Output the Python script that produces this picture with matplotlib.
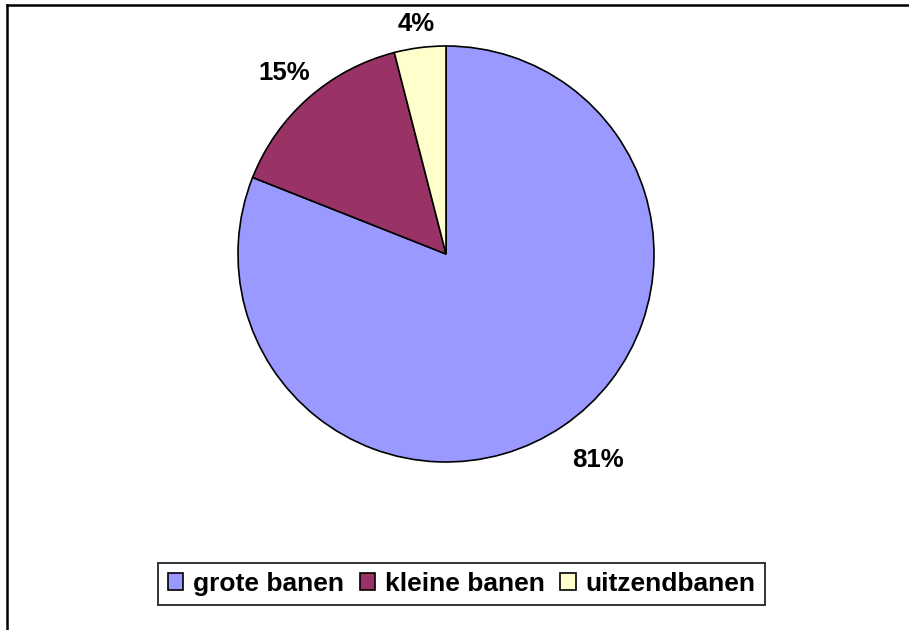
import matplotlib
matplotlib.use("Agg")
import matplotlib.pyplot as plt
from matplotlib.lines import Line2D

# gegevens
labels = ["grote banen", "kleine banen", "uitzendbanen"]
values = [81, 15, 4]
colors = ["#9999FF", "#993366", "#FFFFCC"]

plt.rcParams['font.family'] = ['Liberation Sans', 'DejaVu Sans']

W, H = 909, 630
fig = plt.figure(figsize=(W / 100, H / 100), dpi=100)

# pie-as: midden (446, 254), straal 208 px
cx, cy, r = 446, 254, 208
ax = fig.add_axes([(cx - r) / W, (H - cy - r) / H, 2 * r / W, 2 * r / H])
wedges, texts, autotexts = ax.pie(
    values, colors=colors, startangle=90, counterclock=False,
    autopct='%1.0f%%', pctdistance=1.0, radius=1.0,
    wedgeprops=dict(edgecolor='black', linewidth=1.2))
# afstand van de labels tot het midden + kleine verschuiving (zoals in Excel)
label_dist = [1.2, 1.18, 1.13]
label_nudge = [(0.055, 0.0), (0.0, -0.015), (0.0, -0.015)]
for t, f, (dx, dy) in zip(autotexts, label_dist, label_nudge):
    x, y = t.get_position()
    t.set_position((x * f + dx, y * f + dy))
    t.set_fontsize(18.5)
    t.set_fontweight('bold')
ax.set_xlim(-1, 1)
ax.set_ylim(-1, 1)
ax.set_aspect('equal')

leg = fig.legend(wedges, labels, loc='center', ncol=3,
                 bbox_to_anchor=(461.5 / W, 1 - 584 / H),
                 prop=dict(size=19, weight='bold'),
                 frameon=True, fancybox=False, edgecolor='black',
                 handlelength=0.6, handleheight=0.6, handletextpad=0.35,
                 columnspacing=0.6, borderpad=0.35, borderaxespad=0)
leg.get_frame().set_linewidth(1.4)

# kader rond de figuur
fig.add_artist(Line2D([7 / W, 7 / W], [0, 1 - 5 / H], color='black', lw=1.8, transform=fig.transFigure))
fig.add_artist(Line2D([7 / W, 1], [1 - 5 / H, 1 - 5 / H], color='black', lw=1.8, transform=fig.transFigure))

fig.savefig("out.png", dpi=100)
